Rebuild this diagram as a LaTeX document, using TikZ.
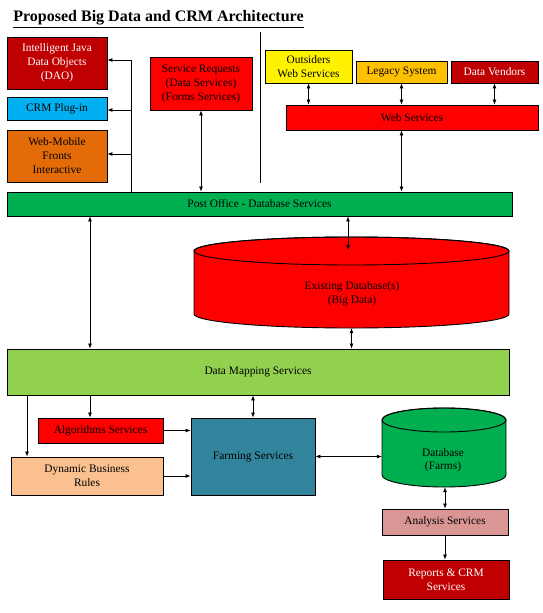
\documentclass[tikz,border=0pt]{standalone}
\usepackage{fontspec}
\setmainfont{Liberation Serif}
\usepackage{tikz}
\usetikzlibrary{arrows.meta}
\usepackage{xcolor}
\definecolor{darkred}{HTML}{C00000}
\definecolor{brightred}{HTML}{FF0000}
\definecolor{skyblue}{HTML}{00B0F0}
\definecolor{burntorange}{HTML}{E36C09}
\definecolor{gold}{HTML}{FFC000}
\definecolor{officegreen}{HTML}{00B050}
\definecolor{limegreen}{HTML}{92D050}
\definecolor{peach}{HTML}{FAC090}
\definecolor{teal}{HTML}{31849B}
\definecolor{rose}{HTML}{D99694}

\begin{document}
\begin{tikzpicture}[x=1pt, y=1pt,
    box/.style={draw, rectangle, line width=0.9pt, inner sep=1pt, align=center,
      font=\fontsize{11.4}{14}\selectfont},
    link/.style={line width=0.7pt, >={Latex[length=5pt,width=4pt]}}]
            \useasboundingbox (0,0) rectangle (543,-613);
            % Title
            \node[font=\fontsize{16}{18}\selectfont\bfseries] (title) at (158.5,-19) {\underline{Proposed Big Data and CRM Architecture}};
            \draw[line width=1pt] (260,-32) -- (260,-183);
            % Nodes
            \node[box, fill=darkred, text=white, minimum width=100, minimum height=52] (dao) at (57,-63) {Intelligent Java\\Data Objects\\(DAO)};
            \node[box, fill=skyblue, minimum width=100, minimum height=23] (crm) at (57,-108.5) {CRM Plug-in};
            \node[box, fill=burntorange, minimum width=100, minimum height=52] (fronts) at (57,-156) {Web-Mobile\\Fronts\\Interactive};
            \node[box, fill=brightred, minimum width=102, minimum height=53] (requests) at (201,-83.5) {Service Requests\\(Data Services)\\(Forms Services)};
            \node[box, fill=yellow, minimum width=87, minimum height=33] (outsiders) at (308.5,-66.5) {Outsiders\\Web Services};
            \node[box, fill=gold, minimum width=91, minimum height=22] (legacy) at (401.5,-72) {Legacy System};
            \node[box, fill=darkred, text=white, minimum width=87, minimum height=22] (vendors) at (494.5,-72) {Data Vendors};
            \node[box, fill=brightred, minimum width=252, minimum height=25] (websvc) at (412,-117.5) {Web Services};
            \node[box, fill=officegreen, minimum width=505, minimum height=24] (postoffice) at (259.5,-204) {Post Office - Database Services};
            % Big data cylinder
            \node[minimum width=315, minimum height=91, inner sep=0pt] (bigdata) at (351.5,-282.5) {};
            \filldraw[fill=brightred, line width=0.9pt] (194,-251) -- (194,-314)
              arc[start angle=180, end angle=360, x radius=157.5, y radius=14] -- (509,-251)
              arc[start angle=0, end angle=180, x radius=157.5, y radius=14] -- cycle;
            \draw[line width=0.9pt] (351.5,-251) ellipse[x radius=157.5, y radius=14];
            \node[align=center, font=\fontsize{11.4}{14}\selectfont] (bigdatalabel) at (352,-294) {Existing Database(s)\\(Big Data)};
            \node[box, fill=limegreen, minimum width=502, minimum height=46] (datamap) at (258,-372) {Data Mapping Services};
            \node[box, fill=brightred, minimum width=125, minimum height=25] (algo) at (100.5,-430.5) {Algorithms Services};
            \node[box, fill=peach, minimum width=152, minimum height=38] (rules) at (87,-476) {Dynamic Business\\Rules};
            \node[box, fill=teal, minimum width=124, minimum height=77] (farming) at (253,-456.5) {Farming Services};
            % Farms cylinder
            \node[minimum width=124, minimum height=79, inner sep=0pt] (farms) at (444,-447.5) {};
            \filldraw[fill=officegreen, line width=0.9pt] (382,-420) -- (382,-475)
              arc[start angle=180, end angle=360, x radius=62, y radius=12] -- (506,-420)
              arc[start angle=0, end angle=180, x radius=62, y radius=12] -- cycle;
            \draw[line width=0.9pt] (444,-420) ellipse[x radius=62, y radius=12];
            \node[align=center, font=\fontsize{11.4}{13}\selectfont] (farmslabel) at (443,-460) {Database\\(Farms)};
            \node[box, fill=rose, minimum width=126, minimum height=26] (analysis) at (445,-522) {Analysis Services};
            \node[box, fill=darkred, text=white, minimum width=126, minimum height=39] (reports) at (446,-579.5) {Reports \& CRM\\Services};
            % Arrows
            \coordinate (bus1) at (131,-60);
            \coordinate (bus2) at (131,-110);
            \coordinate (bus3) at (131,-154);
            \draw[link] (postoffice.north -| bus1) -- (bus1);
            \draw[link, ->] (bus1) -- (bus1 -| dao.east);
            \draw[link, ->] (bus2) -- (bus2 -| crm.east);
            \draw[link, ->] (bus3) -- (bus3 -| fronts.east);
            \draw[link, <->] (requests.south) -- (requests.south |- postoffice.north);
            \draw[link, <->] (outsiders.south) -- (outsiders.south |- websvc.north);
            \draw[link, <->] (legacy.south) -- (legacy.south |- websvc.north);
            \draw[link, <->] (vendors.south) -- (vendors.south |- websvc.north);
            \draw[link, <->] (websvc.south -| legacy) -- (postoffice.north -| legacy);
            \coordinate (leftx) at (90,0);
            \coordinate (rulesx) at (27,0);
            \coordinate (bdtop) at (348,-250);
            \draw[link, <->] (postoffice.south -| leftx) -- (datamap.north -| leftx);
            \draw[link, <->] (postoffice.south -| bdtop) -- (bdtop);
            \draw[link, <->] (bigdata.south) -- (bigdata.south |- datamap.north);
            \draw[link, ->] (datamap.south -| leftx) -- (algo.north -| leftx);
            \draw[link, ->] (datamap.south -| rulesx) -- (rules.north -| rulesx);
            \draw[link, <->] (datamap.south -| farming) -- (farming.north);
            \draw[link, ->] (algo.east) -- (algo.east -| farming.west);
            \draw[link, ->] (rules.east) -- (rules.east -| farming.west);
            \draw[link, <->] (farming.east) -- (farming.east -| farms.west);
            \draw[link, <->] (farms.south -| analysis) -- (analysis.north);
            \draw[link, ->] (analysis.south) -- (analysis.south |- reports.north);
        \end{tikzpicture}
\end{document}
